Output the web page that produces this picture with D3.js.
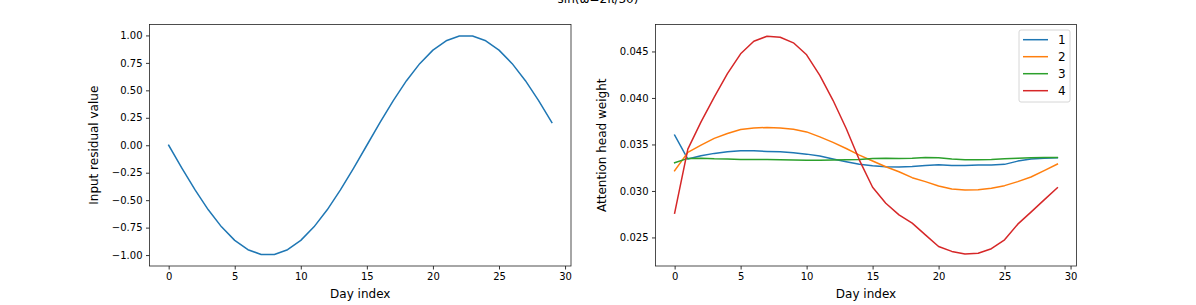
<!DOCTYPE html>
<html><head><meta charset="utf-8">
<script src="https://cdn.jsdelivr.net/npm/d3@7"></script>
<style>body{margin:0;background:#fff}svg{display:block}text{font-family:"DejaVu Sans",sans-serif;fill:#000}</style>
</head><body><svg id="c" width="1196" height="305"></svg>
<script>
const days = d3.range(30);
const residual = [0,-0.208,-0.407,-0.588,-0.743,-0.866,-0.951,-0.995,-0.995,-0.951,-0.866,-0.743,-0.588,-0.407,-0.208,0,0.208,0.407,0.588,0.743,0.866,0.951,0.995,0.995,0.951,0.866,0.743,0.588,0.407,0.208];
const head1 = [0.0360,0.03343,0.03378,0.03404,0.03421,0.03432,0.03432,0.03425,0.03421,0.0341,0.03396,0.03375,0.03343,0.03314,0.03286,0.03271,0.0326,0.03257,0.03264,0.03275,0.03282,0.03275,0.03275,0.03278,0.03278,0.03286,0.03321,0.03343,0.03353,0.03357];
const head2 = [0.03217,0.03415,0.03493,0.03565,0.03618,0.03661,0.03678,0.03682,0.03678,0.03664,0.03635,0.03582,0.03522,0.03457,0.03386,0.03322,0.0326,0.03207,0.03143,0.031,0.03054,0.03021,0.0301,0.03012,0.03029,0.03057,0.031,0.0315,0.03218,0.03289];
const head3 = [0.03303,0.0335,0.03353,0.03346,0.03343,0.03339,0.03339,0.03339,0.03336,0.03333,0.03329,0.03329,0.03333,0.03336,0.03339,0.03348,0.03353,0.0335,0.03353,0.03361,0.03357,0.03343,0.03336,0.03336,0.03339,0.03346,0.03353,0.03357,0.03361,0.03361];
const head4 = [0.02761,0.0345,0.03743,0.0401,0.04261,0.04475,0.0461,0.04664,0.04653,0.04593,0.04464,0.04243,0.03975,0.03672,0.03332,0.0304,0.02868,0.02743,0.02654,0.02528,0.02403,0.0235,0.02322,0.0233,0.02379,0.02475,0.02643,0.02772,0.02904,0.03035];
const headNames = ["1","2","3","4"];
const colors = ["#1f77b4","#ff7f0e","#2ca02c","#d62728"];
const xTicks = [0,5,10,15,20,25,30];
const leftYTicks = [-1,-0.75,-0.5,-0.25,0,0.25,0.5,0.75,1];
const rightYTicks = [0.025,0.030,0.035,0.040,0.045];
const title = "sin(ω=2π/30)";

const svg = d3.select("#c");
const plotTop = 24.5, plotBottom = 266;
const fmt2 = v => d3.format(".2f")(v).replace("-", "\u2212");
const fmt3 = v => d3.format(".3f")(v);

function panel(x0, x1, yDomain, yTicks, yFmt, series, yLabel, yLabelX) {
  const x = d3.scaleLinear().domain([-1.45, 30.45]).range([x0, x1]);
  const y = d3.scaleLinear().domain(yDomain).range([plotBottom, plotTop]);
  const g = svg.append("g");
  const xa = g.append("g").attr("transform", `translate(0,${plotBottom})`)
    .call(d3.axisBottom(x).tickValues(xTicks).tickSize(3.5).tickPadding(3.5).tickFormat(d3.format("d")));
  const ya = g.append("g").attr("transform", `translate(${x0},0)`)
    .call(d3.axisLeft(y).tickValues(yTicks).tickSize(3.5).tickPadding(3.5).tickFormat(yFmt));
  [xa, ya].forEach(a => {
    a.select(".domain").remove();
    a.selectAll("line").attr("stroke", "#000").attr("stroke-width", 0.8);
    a.selectAll("text").attr("font-size", 10).attr("font-family", "DejaVu Sans").attr("fill", "#222");
  });
  const line = d3.line().x((d, i) => x(days[i])).y(d => y(d));
  series.forEach((s, k) => {
    g.append("path").datum(s).attr("d", line).attr("fill", "none")
      .attr("stroke", colors[k]).attr("stroke-width", 1.5).attr("stroke-linejoin", "round").attr("stroke-linecap", "square");
  });
  g.append("rect").attr("x", x0).attr("y", plotTop).attr("width", x1 - x0).attr("height", plotBottom - plotTop)
    .attr("fill", "none").attr("stroke", "#222").attr("stroke-width", 0.8);
  g.append("text").attr("x", (x0 + x1) / 2).attr("y", 297.5).attr("text-anchor", "middle").attr("font-size", 12).attr("fill", "#222").text("Day index");
  g.append("text").attr("transform", `translate(${yLabelX},${(plotTop + plotBottom) / 2}) rotate(-90)`)
    .attr("text-anchor", "middle").attr("font-size", 12).attr("fill", "#222").text(yLabel);
  return {x, y};
}

panel(149.5, 571, [-1.0995, 1.0995], leftYTicks, fmt2, [residual], "Input residual value", 97.5);
panel(655.5, 1076.5, [0.02193, 0.04790], rightYTicks, fmt3, [head1, head2, head3, head4], "Attention head weight", 605.5);

// legend
const lg = svg.append("g");
lg.append("rect").attr("x", 1019).attr("y", 30).attr("width", 51).attr("height", 72).attr("rx", 2)
  .attr("fill", "#fff").attr("fill-opacity", 0.8).attr("stroke", "#ccc").attr("stroke-width", 0.8);
headNames.forEach((n, i) => {
  const yy = 39.7 + i * 17;
  lg.append("line").attr("x1", 1023).attr("x2", 1048).attr("y1", yy).attr("y2", yy).attr("stroke", colors[i]).attr("stroke-width", 1.5);
  lg.append("text").attr("x", 1058).attr("y", yy + 4.3).attr("font-size", 12).attr("fill", "#222").text(n);
});

svg.append("text").attr("x", 598).attr("y", 3).attr("text-anchor", "middle").attr("font-size", 12).attr("fill", "#222").text(title);
</script></body></html>
